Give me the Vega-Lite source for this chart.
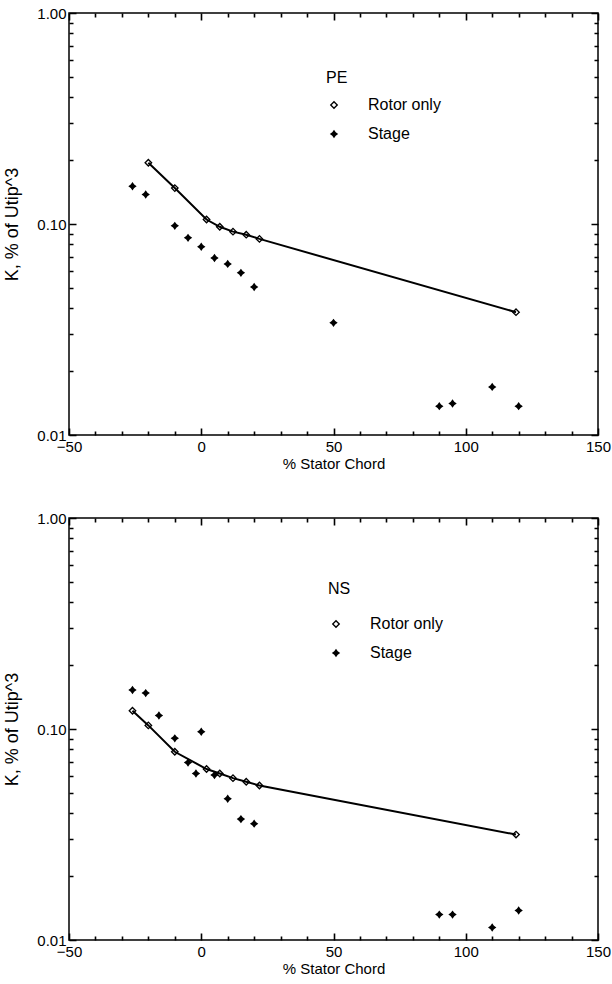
{
  "$schema": "https://vega.github.io/schema/vega-lite/v6.json",
  "padding": {"top": 5, "left": 3, "right": 0, "bottom": 0},
  "background": "white",
  "spacing": 38,
  "datasets": {
    "k": [
      {"panel": "PE", "series": "Rotor only", "x": -20, "k": 0.195},
      {"panel": "PE", "series": "Rotor only", "x": -10, "k": 0.148},
      {"panel": "PE", "series": "Rotor only", "x": 2, "k": 0.105},
      {"panel": "PE", "series": "Rotor only", "x": 7, "k": 0.097},
      {"panel": "PE", "series": "Rotor only", "x": 12, "k": 0.092},
      {"panel": "PE", "series": "Rotor only", "x": 17, "k": 0.089},
      {"panel": "PE", "series": "Rotor only", "x": 22, "k": 0.085},
      {"panel": "PE", "series": "Rotor only", "x": 119, "k": 0.0382},
      {"panel": "PE", "series": "Stage", "x": -26, "k": 0.151},
      {"panel": "PE", "series": "Stage", "x": -21, "k": 0.138},
      {"panel": "PE", "series": "Stage", "x": -10, "k": 0.098},
      {"panel": "PE", "series": "Stage", "x": -5, "k": 0.086},
      {"panel": "PE", "series": "Stage", "x": 0, "k": 0.078},
      {"panel": "PE", "series": "Stage", "x": 5, "k": 0.069},
      {"panel": "PE", "series": "Stage", "x": 10, "k": 0.0647},
      {"panel": "PE", "series": "Stage", "x": 15, "k": 0.0587},
      {"panel": "PE", "series": "Stage", "x": 20, "k": 0.0503},
      {"panel": "PE", "series": "Stage", "x": 50, "k": 0.034},
      {"panel": "PE", "series": "Stage", "x": 90, "k": 0.0137},
      {"panel": "PE", "series": "Stage", "x": 95, "k": 0.0141},
      {"panel": "PE", "series": "Stage", "x": 110, "k": 0.0169},
      {"panel": "PE", "series": "Stage", "x": 120, "k": 0.0137},
      {"panel": "NS", "series": "Rotor only", "x": -26, "k": 0.122},
      {"panel": "NS", "series": "Rotor only", "x": -20, "k": 0.104},
      {"panel": "NS", "series": "Rotor only", "x": -10, "k": 0.078},
      {"panel": "NS", "series": "Rotor only", "x": 2, "k": 0.0646},
      {"panel": "NS", "series": "Rotor only", "x": 7, "k": 0.0615},
      {"panel": "NS", "series": "Rotor only", "x": 12, "k": 0.0585},
      {"panel": "NS", "series": "Rotor only", "x": 17, "k": 0.0562},
      {"panel": "NS", "series": "Rotor only", "x": 22, "k": 0.054},
      {"panel": "NS", "series": "Rotor only", "x": 119, "k": 0.0316},
      {"panel": "NS", "series": "Stage", "x": -26, "k": 0.153},
      {"panel": "NS", "series": "Stage", "x": -21, "k": 0.148},
      {"panel": "NS", "series": "Stage", "x": -16, "k": 0.1158},
      {"panel": "NS", "series": "Stage", "x": -10, "k": 0.0903},
      {"panel": "NS", "series": "Stage", "x": -5, "k": 0.0693},
      {"panel": "NS", "series": "Stage", "x": -2, "k": 0.0615},
      {"panel": "NS", "series": "Stage", "x": 0, "k": 0.097},
      {"panel": "NS", "series": "Stage", "x": 5, "k": 0.0605},
      {"panel": "NS", "series": "Stage", "x": 10, "k": 0.0467},
      {"panel": "NS", "series": "Stage", "x": 15, "k": 0.0374},
      {"panel": "NS", "series": "Stage", "x": 20, "k": 0.0356},
      {"panel": "NS", "series": "Stage", "x": 90, "k": 0.0132},
      {"panel": "NS", "series": "Stage", "x": 95, "k": 0.0132},
      {"panel": "NS", "series": "Stage", "x": 110, "k": 0.01146},
      {"panel": "NS", "series": "Stage", "x": 120, "k": 0.0138}
    ]
  },
  "data": {"name": "k"},
  "vconcat": [
    {
      "width": 529,
      "height": 422,
      "transform": [{"filter": "datum.panel === 'PE'"}],
      "layer": [
        {
          "transform": [{"filter": "datum.series === 'Rotor only'"}],
          "mark": {"type": "line", "color": "black", "strokeWidth": 2},
          "encoding": {
            "x": {"field": "x", "type": "quantitative", "scale": {"domain": [-50, 150], "nice": false, "zero": false},
              "axis": {"orient": "bottom", "title": "% Stator Chord", "values": [-50, 0, 50, 100, 150],
                "grid": true, "gridDash": [7, 408, 7], "labelPadding": 4, "titlePadding": 2}},
            "y": {"field": "k", "type": "quantitative", "scale": {"type": "log", "domain": [0.01, 1], "nice": false},
              "axis": {"orient": "left", "title": "K, % of Utip^3", "titleFontSize": 18, "format": ".2f",
                "values": [0.01, 0.1, 1], "grid": true, "gridDash": [7, 515, 7],
                "labelPadding": 3, "titlePadding": 15}}
          }
        },
        {
          "mark": {"type": "point", "filled": true, "color": "black", "strokeWidth": 0, "opacity": 1},
          "encoding": {
            "x": {"field": "x", "type": "quantitative",
              "axis": {"orient": "top", "title": null, "labels": false, "grid": true, "gridDash": [4, 414, 4],
                "values": [-40,-30,-20,-10,10,20,30,40,60,70,80,90,110,120,130,140]}},
            "y": {"field": "k", "type": "quantitative",
              "axis": {"orient": "right", "title": null, "labels": false, "grid": true, "gridDash": [4, 521, 4],
                "values": [0.02,0.03,0.04,0.05,0.06,0.07,0.08,0.09,0.2,0.3,0.4,0.5,0.6,0.7,0.8,0.9]}},
            "shape": {"field": "series", "type": "nominal",
              "scale": {"domain": ["Rotor only", "Stage"], "range": ["M0,-1L1,0L0,1L-1,0ZM0,-0.55L-0.55,0L0,0.55L0.55,0Z", "M0,-1L0.42,-0.42L1,0L0.42,0.42L0,1L-0.42,0.42L-1,0L-0.42,-0.42Z"]},
              "legend": {"title": "PE", "orient": "none", "legendX": 257, "legendY": 57, "titlePadding": 11}},
            "size": {"value": 70}
          }
        }
      ],
      "resolve": {"axis": {"x": "independent", "y": "independent"}}
    },
    {
      "width": 529,
      "height": 422,
      "transform": [{"filter": "datum.panel === 'NS'"}],
      "layer": [
        {
          "transform": [{"filter": "datum.series === 'Rotor only'"}],
          "mark": {"type": "line", "color": "black", "strokeWidth": 2},
          "encoding": {
            "x": {"field": "x", "type": "quantitative", "scale": {"domain": [-50, 150], "nice": false, "zero": false},
              "axis": {"orient": "bottom", "title": "% Stator Chord", "values": [-50, 0, 50, 100, 150],
                "grid": true, "gridDash": [7, 408, 7], "labelPadding": 4, "titlePadding": 2}},
            "y": {"field": "k", "type": "quantitative", "scale": {"type": "log", "domain": [0.01, 1], "nice": false},
              "axis": {"orient": "left", "title": "K, % of Utip^3", "titleFontSize": 18, "format": ".2f",
                "values": [0.01, 0.1, 1], "grid": true, "gridDash": [7, 515, 7],
                "labelPadding": 3, "titlePadding": 15}}
          }
        },
        {
          "mark": {"type": "point", "filled": true, "color": "black", "strokeWidth": 0, "opacity": 1},
          "encoding": {
            "x": {"field": "x", "type": "quantitative",
              "axis": {"orient": "top", "title": null, "labels": false, "grid": true, "gridDash": [4, 414, 4],
                "values": [-40,-30,-20,-10,10,20,30,40,60,70,80,90,110,120,130,140]}},
            "y": {"field": "k", "type": "quantitative",
              "axis": {"orient": "right", "title": null, "labels": false, "grid": true, "gridDash": [4, 521, 4],
                "values": [0.02,0.03,0.04,0.05,0.06,0.07,0.08,0.09,0.2,0.3,0.4,0.5,0.6,0.7,0.8,0.9]}},
            "shape": {"field": "series", "type": "nominal",
              "scale": {"domain": ["Rotor only", "Stage"], "range": ["M0,-1L1,0L0,1L-1,0ZM0,-0.55L-0.55,0L0,0.55L0.55,0Z", "M0,-1L0.42,-0.42L1,0L0.42,0.42L0,1L-0.42,0.42L-1,0L-0.42,-0.42Z"]},
              "legend": {"title": "NS", "orient": "none", "legendX": 259, "legendY": 63, "titlePadding": 19}},
            "size": {"value": 70}
          }
        }
      ],
      "resolve": {"axis": {"x": "independent", "y": "independent"}}
    }
  ],
  "resolve": {"scale": {"shape": "independent"}},
  "config": {
    "font": "Liberation Sans",
    "view": {"stroke": "black", "strokeWidth": 1.5},
    "axis": {
      "domain": false,
      "ticks": false,
      "gridColor": "black",
      "gridOpacity": 1,
      "gridWidth": 1.6,
      "labelFont": "Liberation Sans",
      "labelFontSize": 15,
      "labelColor": "black",
      "labelFlush": false,
      "labelOverlap": false,
      "titleFont": "Liberation Sans",
      "titleFontSize": 15,
      "titleFontWeight": "normal",
      "titleColor": "black"
    },
    "legend": {
      "titleFont": "Liberation Sans",
      "titleFontSize": 16,
      "titleFontWeight": "normal",
      "titleColor": "black",
      "titlePadding": 13,
      "labelFont": "Liberation Sans",
      "labelFontSize": 16,
      "labelColor": "black",
      "labelOffset": 26,
      "rowPadding": 13,
      "symbolSize": 70,
      "symbolFillColor": "black",
      "symbolStrokeWidth": 0
    }
  }
}
